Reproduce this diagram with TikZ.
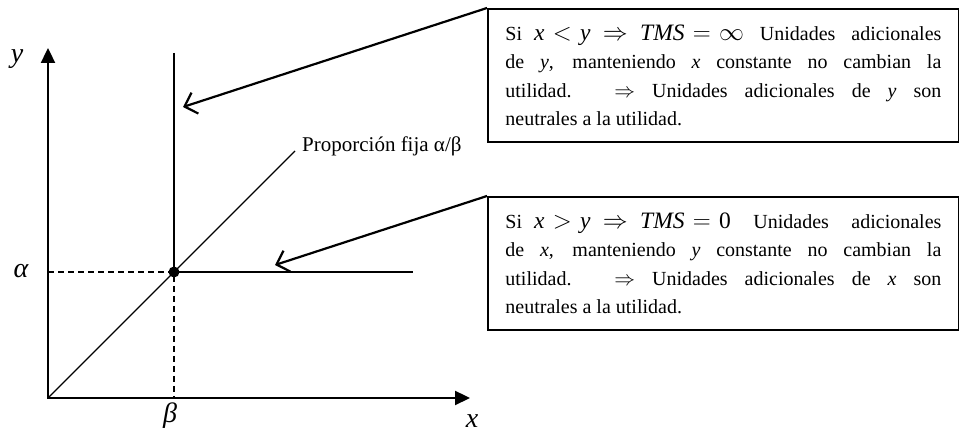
\documentclass[tikz,border=0pt]{standalone}
\usepackage{fontspec}
\setmainfont{Liberation Serif}
\usetikzlibrary{arrows.meta}
\hyphenpenalty=10000
\newcommand\vble[1]{\textit{#1}}
\newcommand\grande{\fontsize{23.5}{28.3}\selectfont\thickmuskip=6mu}

\begin{document}
\begin{tikzpicture}[x=1pt, y=1pt,
  ejes/.style={line width=2.3pt, {Triangle[length=15pt,width=14pt]}-{Triangle[length=15pt,width=14pt]}},
  curva/.style={line width=2.1pt},
  guia/.style={line width=1.2pt, dash pattern=on 6pt off 4pt},
  flecha/.style={line width=2.2pt, -{Straight Barb[length=11pt,width=22pt]}},
  nota/.style={draw, line width=1.8pt, anchor=north west, text width=436pt, align=justify,
    inner xsep=17.5pt, inner ysep=0pt, minimum height=133pt, font=\fontsize{20}{28.3}\selectfont},
  etiq/.style={font=\fontsize{28}{28}\selectfont\itshape, inner sep=0pt, anchor=base}]
  \useasboundingbox (-48,-37) rectangle (911,398);
  \coordinate (O) at (0,0);
  \coordinate (ytop) at (0,350);
  \coordinate (xtop) at (422,0);
  \coordinate (esq) at (126,126);
  \coordinate (ltop) at (126,345);
  \coordinate (lder) at (365,126);
  \coordinate (diagfin) at (247,247);
  \coordinate (tipinf) at (135,291);
  \coordinate (tipcero) at (227,133);

  \draw[guia] (esq -| O) -- (esq) -- (esq |- O);
  \draw[ejes] (ytop) -- (O) -- (xtop);
  \draw[line width=1.3pt] (O) -- (diagfin);
  \draw[curva] (ltop) -- (esq) -- (lder);
  \fill (esq) circle (5.5pt);

  \node[etiq] (ylab) at (-31,335) {y};
  \node[etiq] (alab) at (-27,120) {α};
  \node[etiq] (blab) at (122,-25) {β};
  \node[etiq] (xlab) at (424,-30) {x};
  \node[anchor=base west, inner sep=0pt, font=\fontsize{21}{21}\selectfont] (prop) at (254,246) {Proporción fija α/β};

  \node[nota] (tmsinf) at (439,390) {Si\kern12pt{\grande$\vble{x} < \vble{y} \,\Rightarrow\, \vble{TMS} = \infty$} Unidades adicionales\linebreak
    de \vble{y}, manteniendo \vble{x} constante no cambian la\linebreak
    utilidad. $\Rightarrow$ Unidades adicionales de \vble{y} son\linebreak
    neutrales a la utilidad.};
  \node[nota] (tmscero) at (439,202) {Si\kern12pt{\grande$\vble{x} > \vble{y} \,\Rightarrow\, \vble{TMS} = \mbox{0}$} Unidades adicionales\linebreak
    de \vble{x}, manteniendo \vble{y} constante no cambian la\linebreak
    utilidad. $\Rightarrow$ Unidades adicionales de \vble{x} son\linebreak
    neutrales a la utilidad.};

  \draw[flecha] (tmsinf.north west) -- (tipinf);
  \draw[flecha] (tmscero.north west) -- (tipcero);
\end{tikzpicture}
\end{document}
